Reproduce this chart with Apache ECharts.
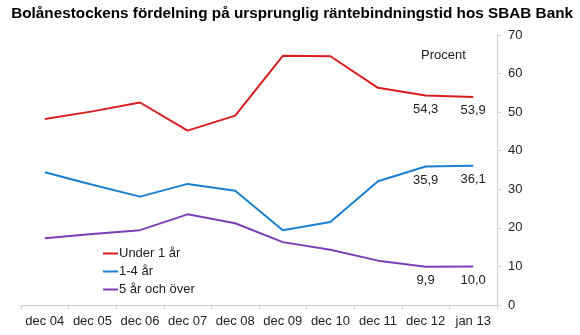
<!DOCTYPE html>
<html><head><meta charset="utf-8">
<script src="https://cdn.jsdelivr.net/npm/echarts@6/dist/echarts.min.js"></script>
<style>html,body{margin:0;padding:0;background:#fff}#c{width:580px;height:335px}</style>
</head><body><div id="c"></div>
<script>
var categories = ['dec 04','dec 05','dec 06','dec 07','dec 08','dec 09','dec 10','dec 11','dec 12','jan 13'];
var under1 = [48.2, 50.2, 52.5, 45.2, 49.1, 64.6, 64.5, 56.3, 54.3, 53.9];
var y1to4 = [34.4, 31.2, 28.1, 31.4, 29.6, 19.4, 21.5, 32.1, 35.9, 36.1];
var y5plus = [17.3, 18.4, 19.4, 23.5, 21.2, 16.3, 14.3, 11.5, 9.9, 10.0];
var seriesNames = ['Under 1 år', '1-4 år', '5 år och över'];
var colors = ['#d81e1e', '#1b7fd2', '#7e3fb6'];
var labelCount = 2;

function withLabels(arr) {
  return arr.map(function (v, i) {
    if (i >= arr.length - labelCount) {
      return { value: v, label: { show: true, position: 'bottom', distance: 7,
        formatter: function (p) { return p.value.toFixed(1).replace('.', ','); } } };
    }
    return v;
  });
}

var font = 'Liberation Sans, Arial, sans-serif';
var fs = 13;
function lineSeries(name, data) {
  return { name: name, type: 'line', data: withLabels(data), showSymbol: true, symbol: 'circle', symbolSize: 0.1,
    emphasis: { disabled: true },
    lineStyle: { width: 2 }, label: { show: false, color: '#222', fontSize: fs, fontFamily: font } };
}

var chart = echarts.init(document.getElementById('c'));
chart.setOption({
  animation: false,
  color: colors,
  title: { text: 'Bolånestockens fördelning på ursprunglig räntebindningstid hos SBAB Bank',
    right: 2, top: 1, textStyle: { fontSize: 15.3, fontWeight: 'bold', color: '#000', fontFamily: font } },
  legend: { orient: 'vertical', left: 98, top: 242, itemWidth: 15, itemHeight: 2, itemGap: 5,
    icon: 'rect', data: seriesNames,
    textStyle: { fontSize: fs, color: '#222', fontFamily: font, padding: [0, 0, 0, -4] } },
  grid: { left: 21, right: 83, top: 35, bottom: 30 },
  xAxis: { type: 'category', data: categories, boundaryGap: true,
    axisLine: { lineStyle: { color: '#d0d0d0' } },
    axisTick: { show: true, length: 4, lineStyle: { color: '#d0d0d0' } },
    axisLabel: { fontSize: fs, color: '#222', fontFamily: font, margin: 10, interval: 0 } },
  yAxis: { type: 'value', position: 'right', min: 0, max: 70, interval: 10,
    splitLine: { show: false },
    axisLine: { show: true, lineStyle: { color: '#d0d0d0' } },
    axisTick: { show: true, length: 4, lineStyle: { color: '#d0d0d0' } },
    axisLabel: { fontSize: fs, color: '#222', fontFamily: font, margin: 11 } },
  graphic: [{ type: 'text', left: 421, top: 49,
    style: { text: 'Procent', fontSize: fs, fill: '#222', fontFamily: font } }],
  series: [
    lineSeries(seriesNames[0], under1),
    lineSeries(seriesNames[1], y1to4),
    lineSeries(seriesNames[2], y5plus)
  ]
});
</script></body></html>
